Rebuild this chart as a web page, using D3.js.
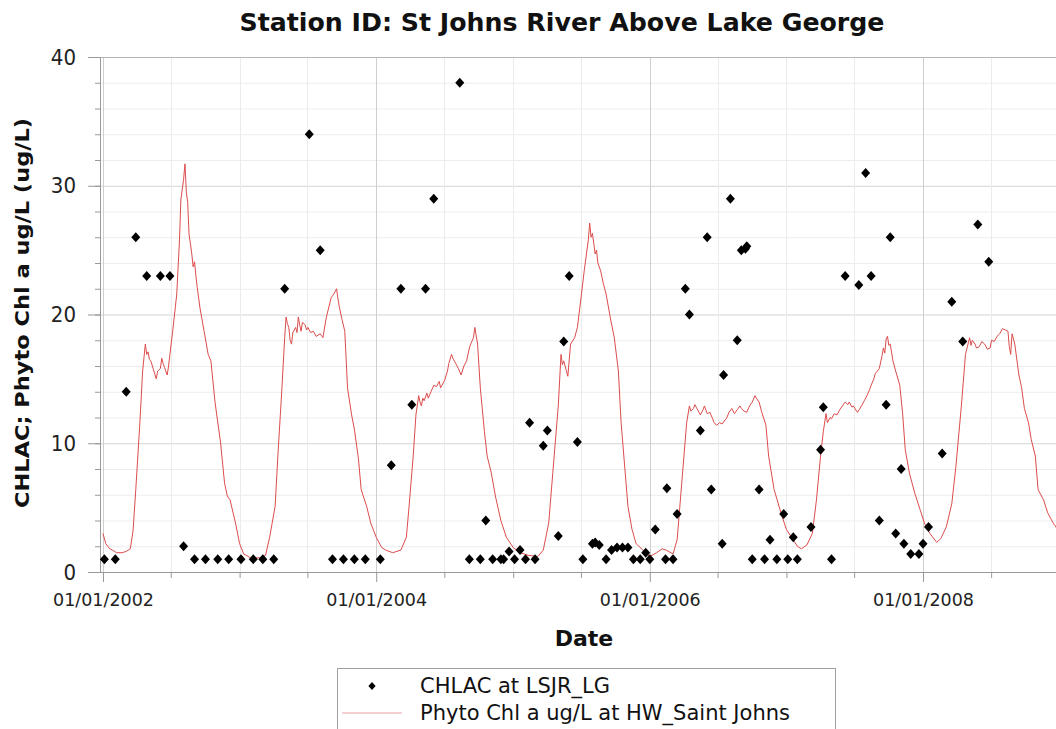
<!DOCTYPE html>
<html>
<head>
<meta charset="utf-8">
<script src="https://cdn.jsdelivr.net/npm/d3@7"></script>
<style>
  body { margin: 0; background: #fff; }
  svg { display: block; font-family: "DejaVu Sans", sans-serif; }
</style>
</head>
<body>
<div id="chart"></div>
<script>
// Observed CHLAC samples: [decimal year, ug/L]
var chlacObs = [
  [2002.01, 1], [2002.09, 1], [2002.17, 14], [2002.24, 26], [2002.32, 23], [2002.42, 23], [2002.49, 23],
  [2002.59, 2], [2002.67, 1], [2002.75, 1], [2002.84, 1], [2002.92, 1], [2003.01, 1], [2003.10, 1],
  [2003.17, 1], [2003.25, 1], [2003.33, 22], [2003.51, 34], [2003.59, 25], [2003.68, 1], [2003.76, 1],
  [2003.84, 1], [2003.92, 1], [2004.03, 1], [2004.11, 8.3], [2004.18, 22], [2004.26, 13], [2004.36, 22],
  [2004.42, 29], [2004.61, 38], [2004.68, 1], [2004.76, 1], [2004.80, 4.0], [2004.85, 1], [2004.91, 1],
  [2004.93, 1], [2004.97, 1.6], [2005.01, 1], [2005.05, 1.7], [2005.09, 1], [2005.12, 11.6], [2005.16, 1],
  [2005.22, 9.8], [2005.25, 11], [2005.33, 2.8], [2005.37, 17.9], [2005.41, 23], [2005.47, 10.1],
  [2005.51, 1], [2005.58, 2.2], [2005.60, 2.3], [2005.63, 2.1], [2005.68, 1], [2005.72, 1.7], [2005.76, 1.9],
  [2005.80, 1.9], [2005.84, 1.9], [2005.88, 1], [2005.93, 1], [2005.97, 1.5], [2006.00, 1], [2006.04, 3.3],
  [2006.115, 1], [2006.125, 6.5], [2006.17, 1], [2006.20, 4.5], [2006.26, 22], [2006.29, 20], [2006.37, 11],
  [2006.42, 26], [2006.45, 6.4], [2006.53, 2.2], [2006.54, 15.3], [2006.59, 29], [2006.64, 18], [2006.67, 25],
  [2006.70, 25.1], [2006.71, 25.3], [2006.75, 1], [2006.80, 6.4], [2006.84, 1], [2006.88, 2.5], [2006.93, 1],
  [2006.98, 4.5], [2007.01, 1], [2007.05, 2.7], [2007.08, 1], [2007.18, 3.5], [2007.25, 9.5], [2007.27, 12.8],
  [2007.33, 1], [2007.43, 23], [2007.53, 22.3], [2007.58, 31], [2007.62, 23], [2007.68, 4.0], [2007.73, 13],
  [2007.76, 26], [2007.80, 3.0], [2007.84, 8.0], [2007.86, 2.2], [2007.91, 1.4], [2007.97, 1.4], [2008.00, 2.2],
  [2008.04, 3.5], [2008.14, 9.2], [2008.21, 21], [2008.29, 17.9], [2008.40, 27], [2008.48, 24.1]
];

// Modelled Phyto Chl a: [decimal year, ug/L]
var phytoModel = [
  [2002.00, 3.0], [2002.02, 2.2], [2002.05, 1.8], [2002.07, 1.7], [2002.10, 1.5], [2002.14, 1.5], [2002.17, 1.6],
  [2002.20, 1.8], [2002.22, 3.2], [2002.24, 6.4], [2002.27, 11.6], [2002.29, 15.6], [2002.31, 17.7], [2002.32, 16.9],
  [2002.33, 17.1], [2002.34, 16.5], [2002.35, 16.4], [2002.37, 15.7], [2002.39, 15.0], [2002.40, 15.6], [2002.42, 15.8],
  [2002.43, 16.6], [2002.44, 16.2], [2002.45, 15.9], [2002.47, 15.3], [2002.48, 16.0], [2002.49, 16.9], [2002.51, 18.7],
  [2002.53, 20.6], [2002.54, 21.6], [2002.56, 25.8], [2002.57, 28.9], [2002.59, 30.5], [2002.60, 31.7], [2002.61, 29.5],
  [2002.62, 28.7], [2002.63, 26.2], [2002.64, 25.5], [2002.65, 24.7], [2002.66, 23.7], [2002.67, 24.1], [2002.68, 23.0],
  [2002.69, 22.1], [2002.71, 20.5], [2002.74, 18.7], [2002.77, 16.9], [2002.79, 16.4], [2002.82, 13.2], [2002.86, 10.1],
  [2002.89, 6.9], [2002.91, 5.9], [2002.93, 5.6], [2002.97, 3.8], [2003.00, 2.2], [2003.03, 1.4], [2003.08, 1.1],
  [2003.15, 1.1], [2003.19, 1.3], [2003.22, 2.7], [2003.26, 5.1], [2003.28, 9.0], [2003.31, 14.3], [2003.33, 18.2],
  [2003.34, 19.8], [2003.35, 19.3], [2003.36, 19.0], [2003.37, 18.0], [2003.38, 17.7], [2003.39, 18.6], [2003.41, 19.0],
  [2003.42, 18.6], [2003.43, 19.8], [2003.44, 19.2], [2003.45, 18.7], [2003.46, 19.4], [2003.48, 19.2], [2003.49, 18.8],
  [2003.50, 19.0], [2003.52, 18.6], [2003.54, 18.7], [2003.56, 18.3], [2003.59, 18.5], [2003.61, 18.2], [2003.63, 19.5],
  [2003.64, 20.0], [2003.67, 21.3], [2003.69, 21.6], [2003.71, 22.0], [2003.72, 21.2], [2003.73, 20.6], [2003.75, 19.6],
  [2003.77, 18.7], [2003.79, 14.3], [2003.82, 12.2], [2003.84, 11.1], [2003.87, 8.8], [2003.89, 6.4], [2003.93, 5.1],
  [2003.96, 3.8], [2004.00, 2.7], [2004.04, 1.9], [2004.07, 1.7], [2004.12, 1.5], [2004.18, 1.7], [2004.22, 2.7],
  [2004.24, 5.1], [2004.27, 9.0], [2004.29, 12.2], [2004.31, 13.7], [2004.32, 13.2], [2004.33, 12.9], [2004.34, 13.5],
  [2004.35, 13.3], [2004.37, 13.9], [2004.38, 13.5], [2004.40, 14.0], [2004.42, 14.5], [2004.44, 14.4], [2004.46, 14.8],
  [2004.47, 14.3], [2004.50, 14.9], [2004.52, 15.6], [2004.53, 16.2], [2004.55, 16.9], [2004.56, 16.6], [2004.58, 16.2],
  [2004.60, 15.8], [2004.62, 15.3], [2004.64, 16.0], [2004.66, 16.4], [2004.68, 17.4], [2004.69, 17.7], [2004.71, 18.2],
  [2004.72, 19.0], [2004.74, 17.7], [2004.76, 14.3], [2004.79, 10.9], [2004.81, 9.0], [2004.84, 7.7], [2004.87, 5.9],
  [2004.91, 4.0], [2004.95, 2.7], [2005.00, 1.9], [2005.05, 1.5], [2005.11, 1.3], [2005.18, 1.2], [2005.22, 1.7],
  [2005.26, 3.8], [2005.29, 7.7], [2005.33, 12.9], [2005.35, 16.9], [2005.36, 16.1], [2005.37, 16.4], [2005.39, 15.6],
  [2005.40, 15.2], [2005.42, 17.7], [2005.45, 18.2], [2005.47, 19.0], [2005.50, 21.6], [2005.52, 23.4], [2005.55, 25.8],
  [2005.56, 27.1], [2005.57, 26.0], [2005.58, 26.3], [2005.60, 24.7], [2005.61, 25.0], [2005.62, 24.0], [2005.64, 23.4],
  [2005.66, 22.4], [2005.68, 21.6], [2005.71, 19.8], [2005.74, 18.2], [2005.77, 15.6], [2005.79, 11.6], [2005.82, 7.7],
  [2005.84, 5.1], [2005.87, 3.3], [2005.90, 2.2], [2005.95, 1.7], [2006.00, 1.2], [2006.05, 1.5], [2006.09, 1.8],
  [2006.12, 1.7], [2006.17, 1.4], [2006.20, 2.5], [2006.22, 5.1], [2006.25, 9.0], [2006.27, 11.6], [2006.29, 12.9],
  [2006.30, 12.5], [2006.32, 12.7], [2006.33, 13.0], [2006.34, 12.8], [2006.36, 12.4], [2006.37, 12.2], [2006.39, 12.6],
  [2006.40, 12.9], [2006.42, 12.3], [2006.44, 12.4], [2006.46, 11.9], [2006.47, 11.6], [2006.49, 11.4], [2006.51, 11.6],
  [2006.53, 11.5], [2006.55, 11.8], [2006.56, 11.9], [2006.58, 12.4], [2006.60, 12.7], [2006.62, 12.3], [2006.64, 12.6],
  [2006.66, 12.9], [2006.67, 12.7], [2006.69, 12.5], [2006.71, 12.4], [2006.73, 12.9], [2006.75, 13.2], [2006.77, 13.7],
  [2006.78, 13.5], [2006.80, 13.2], [2006.82, 12.4], [2006.85, 11.4], [2006.87, 9.0], [2006.91, 6.4], [2006.96, 4.6],
  [2007.00, 3.3], [2007.05, 2.5], [2007.08, 2.0], [2007.11, 1.8], [2007.15, 2.1], [2007.19, 3.0], [2007.22, 5.6],
  [2007.25, 9.0], [2007.27, 10.9], [2007.29, 12.3], [2007.30, 11.6], [2007.32, 12.0], [2007.33, 11.9], [2007.35, 12.3],
  [2007.37, 12.2], [2007.39, 12.6], [2007.41, 12.9], [2007.43, 13.2], [2007.45, 13.0], [2007.46, 13.2], [2007.48, 12.8],
  [2007.49, 12.9], [2007.52, 12.4], [2007.55, 12.9], [2007.57, 13.3], [2007.59, 13.7], [2007.61, 14.2], [2007.62, 14.5],
  [2007.64, 15.0], [2007.65, 15.4], [2007.68, 15.8], [2007.70, 16.8], [2007.71, 17.4], [2007.72, 17.0], [2007.73, 18.1],
  [2007.74, 18.3], [2007.75, 17.6], [2007.76, 17.7], [2007.78, 16.4], [2007.80, 15.6], [2007.83, 14.5], [2007.85, 12.4],
  [2007.87, 9.5], [2007.90, 7.7], [2007.94, 6.1], [2007.98, 4.8], [2008.01, 3.8], [2008.05, 3.0], [2008.10, 2.3],
  [2008.13, 2.6], [2008.17, 3.5], [2008.21, 5.3], [2008.24, 8.2], [2008.28, 12.9], [2008.31, 16.9], [2008.34, 18.2],
  [2008.35, 17.6], [2008.36, 18.0], [2008.38, 17.7], [2008.39, 17.4], [2008.41, 17.5], [2008.43, 17.9], [2008.45, 17.7],
  [2008.47, 17.3], [2008.49, 17.4], [2008.50, 18.0], [2008.52, 17.9], [2008.54, 18.3], [2008.56, 18.5], [2008.58, 18.9],
  [2008.60, 18.8], [2008.62, 18.7], [2008.63, 17.5], [2008.64, 16.9], [2008.65, 18.5], [2008.67, 17.7], [2008.70, 15.3],
  [2008.72, 14.3], [2008.74, 12.7], [2008.77, 11.6], [2008.79, 10.3], [2008.82, 9.0], [2008.84, 6.4], [2008.88, 5.6],
  [2008.91, 4.6], [2008.95, 3.8], [2008.99, 3.2]
];

var yMajorTicks = [0, 10, 20, 30, 40];
var xLabelYears = [2002, 2004, 2006, 2008];
var titleText = "Station ID: St Johns River Above Lake George";
var yLabelText = "CHLAC; Phyto Chl a ug/L  (ug/L)";
var xLabelText = "Date";
var legendLabels = ["CHLAC at LSJR_LG", "Phyto Chl a ug/L at HW_Saint Johns"];

// decimal year -> Date
function toDate(v) {
  var yr = Math.floor(v);
  var a = new Date(yr, 0, 1), b = new Date(yr + 1, 0, 1);
  return new Date(+a + (v - yr) * (b - a));
}

(function() {
  var W = 1056, H = 729;
  var mLeft = 100, mRight = 1056, mTop = 57, mBottom = 572;

  var svg = d3.select("#chart").append("svg")
      .attr("width", W).attr("height", H);

  svg.append("rect").attr("width", W).attr("height", H).attr("fill", "#fff");

  var x = d3.scaleTime()
      .domain([new Date(2001, 11, 24), new Date(2009, 0, 1)])
      .range([mLeft, 1060]);

  var y = d3.scaleLinear()
      .domain([0, 40])
      .range([mBottom, mTop]);

  var halfYears = d3.timeMonth.every(6).range(new Date(2002, 0, 1), new Date(2009, 0, 1));
  var yMinor = d3.range(0, 41, 2);
  var isLabelled = function(d) {
    return d.getMonth() === 0 && xLabelYears.indexOf(d.getFullYear()) >= 0;
  };

  // grid //////////////////////////////
  var grid = svg.append("g");
  grid.selectAll(".hg").data(yMinor).enter().append("line")
      .attr("x1", mLeft).attr("x2", mRight)
      .attr("y1", function(d) { return y(d) + 0.5; }).attr("y2", function(d) { return y(d) + 0.5; })
      .attr("stroke", function(d) { return d % 10 === 0 ? "#d4d4d4" : "#ededed"; })
      .attr("stroke-width", 1);

  grid.selectAll(".vg").data(halfYears).enter().append("line")
      .attr("x1", function(d) { return Math.round(x(d)) + 0.5; })
      .attr("x2", function(d) { return Math.round(x(d)) + 0.5; })
      .attr("y1", mTop).attr("y2", mBottom)
      .attr("stroke", function(d) { return isLabelled(d) ? "#cfcfcf" : "#ebebeb"; })
      .attr("stroke-width", 1);

  // top frame
  svg.append("line").attr("x1", mLeft).attr("x2", mRight).attr("y1", mTop + 0.5).attr("y2", mTop + 0.5)
      .attr("stroke", "#b5b5b5");

  // axes //////////////////////////////
  var yAxisMinor = d3.axisLeft(y).tickValues(yMinor).tickSize(5).tickSizeOuter(0).tickFormat("");
  var yAxis = d3.axisLeft(y).tickValues(yMajorTicks).tickSize(12).tickSizeOuter(0).tickPadding(12);

  var gyMinor = svg.append("g").attr("transform", "translate(" + mLeft + ",0)").call(yAxisMinor);
  var gy = svg.append("g").attr("transform", "translate(" + mLeft + ",0)").call(yAxis);
  [gyMinor, gy].forEach(function(g) {
    g.selectAll("path, line").attr("stroke", "#999");
  });
  gy.selectAll("text").attr("font-size", 22).attr("fill", "#222")
      .attr("font-family", "'DejaVu Sans Condensed', 'DejaVu Sans', sans-serif");

  var xAxis = d3.axisBottom(x).tickValues(halfYears).tickSize(6).tickSizeOuter(0)
      .tickFormat(function(d) { return isLabelled(d) ? d3.timeFormat("%m/%d/%Y")(d) : ""; });
  var gx = svg.append("g").attr("transform", "translate(0," + mBottom + ")").call(xAxis);
  gx.select(".domain").attr("d", "M" + (mLeft - 12) + ",0.5H" + mRight);
  gx.selectAll(".tick line").attr("y2", function(d) { return isLabelled(d) ? 10 : 6; });
  gx.selectAll("path, line").attr("stroke", "#999");
  gx.selectAll("text").attr("font-size", 17.5).attr("fill", "#222").attr("y", 22)
      .attr("font-family", "'DejaVu Sans', sans-serif");

  // series ////////////////////////////
  var line = d3.line()
      .x(function(d) { return x(toDate(d[0])); })
      .y(function(d) { return y(d[1]); });

  svg.append("path").datum(phytoModel)
      .attr("d", line)
      .attr("fill", "none")
      .attr("stroke", "#dc4c4c")
      .attr("stroke-width", 1);

  var diamond = "M0,-5L4.5,0L0,5L-4.5,0Z";
  svg.append("g").selectAll("path").data(chlacObs).enter().append("path")
      .attr("d", diamond)
      .attr("transform", function(d) { return "translate(" + x(toDate(d[0])) + "," + y(d[1]) + ")"; })
      .attr("fill", "#000");

  // titles ////////////////////////////
  svg.append("text").attr("x", 562).attr("y", 31)
      .attr("text-anchor", "middle").attr("font-size", 25).attr("font-weight", "bold")
      .attr("textLength", 645).attr("lengthAdjust", "spacingAndGlyphs")
      .attr("fill", "#111").text(titleText);

  svg.append("text")
      .attr("transform", "translate(29,313) rotate(-90)")
      .attr("text-anchor", "middle").attr("font-size", 20).attr("font-weight", "bold")
      .attr("textLength", 390).attr("lengthAdjust", "spacingAndGlyphs")
      .attr("fill", "#111").text(yLabelText);

  svg.append("text").attr("x", 584).attr("y", 646)
      .attr("text-anchor", "middle").attr("font-size", 22).attr("font-weight", "bold")
      .attr("fill", "#111").text(xLabelText);

  // legend ////////////////////////////
  var lg = svg.append("g");
  lg.append("rect").attr("x", 337.5).attr("y", 668.5).attr("width", 498).attr("height", 70)
      .attr("fill", "#fff").attr("stroke", "#a0a0a0");
  lg.append("path").attr("d", diamond).attr("transform", "translate(372,686) scale(0.8)").attr("fill", "#000");
  lg.append("line").attr("x1", 342).attr("x2", 402).attr("y1", 713).attr("y2", 713)
      .attr("stroke", "#e8a4a4").attr("stroke-width", 1.2);
  lg.selectAll("text").data(legendLabels).enter().append("text")
      .attr("x", 420).attr("y", function(d, i) { return 693 + i * 27; })
      .attr("font-size", 21).attr("fill", "#111").text(function(d) { return d; });
})();
</script>
</body>
</html>
